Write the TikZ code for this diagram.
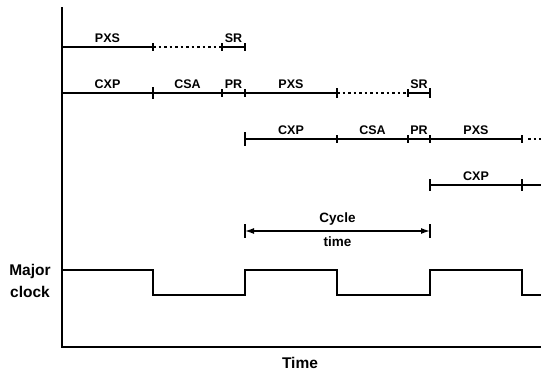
\documentclass[tikz,border=0pt]{standalone}
\usepackage{fontspec}
\setmainfont{Liberation Sans}
\usetikzlibrary{arrows.meta}
\tikzset{
  phase label/.style={
    font=\bfseries\fontsize{12.5}{14}\selectfont,
    above,
    inner sep=3.5pt,
  },
  phase line/.style={
    line width=1.4pt,
  },
  gap line/.style={
    line width=1.4pt,
    dash pattern=on 2.5pt off 3pt,
  },
  big label/.style={
    font=\bfseries\fontsize{15.5}{22}\selectfont,
    align=center,
  },
}
\newcommand{\tickmark}[2]{\draw[line width=1.2pt] (#1) ++(0,-#2) -- ++(0,2*#2);}

\begin{document}
\begin{tikzpicture}[x=1pt, y=-1pt]
      \useasboundingbox (0,0) rectangle (549,373);

      \coordinate (r1a) at (62,47);
      \coordinate (r1b) at (153,47);
      \coordinate (r1c) at (222,47);
      \coordinate (r1d) at (245,47);

      \coordinate (r2a) at (62,93);
      \coordinate (r2b) at (153,93);
      \coordinate (r2c) at (222,93);
      \coordinate (r2d) at (245,93);
      \coordinate (r2e) at (337,93);
      \coordinate (r2f) at (408,93);
      \coordinate (r2g) at (430,93);

      \coordinate (r3a) at (245,139);
      \coordinate (r3b) at (337,139);
      \coordinate (r3c) at (408,139);
      \coordinate (r3d) at (430,139);
      \coordinate (r3e) at (522,139);
      \coordinate (r3f) at (528,139);
      \coordinate (r3g) at (541,139);

      \coordinate (r4a) at (430,185);
      \coordinate (r4b) at (522,185);
      \coordinate (r4c) at (541,185);

      \coordinate (c1) at (245,231);
      \coordinate (c2) at (430,231);

      \draw[phase line] (r1a) -- node[phase label] {PXS} (r1b);
      \draw[gap line] (r1b) -- (r1c);
      \draw[phase line] (r1c) -- node[phase label] {SR} (r1d);
      \tickmark{r1b}{4} \tickmark{r1c}{4} \tickmark{r1d}{4}

      \draw[phase line] (r2a) -- node[phase label] {CXP} (r2b)
        -- node[phase label] {CSA} (r2c)
        -- node[phase label] {PR} (r2d)
        -- node[phase label] {PXS} (r2e);
      \draw[gap line] (r2e) -- (r2f);
      \draw[phase line] (r2f) -- node[phase label] {SR} (r2g);
      \tickmark{r2b}{6} \tickmark{r2c}{4} \tickmark{r2d}{4}
      \tickmark{r2e}{5} \tickmark{r2f}{4} \tickmark{r2g}{5}

      \draw[phase line] (r3a) -- node[phase label] {CXP} (r3b)
        -- node[phase label] {CSA} (r3c)
        -- node[phase label] {PR} (r3d)
        -- node[phase label] {PXS} (r3e);
      \draw[gap line] (r3f) -- (r3g);
      \tickmark{r3a}{7} \tickmark{r3b}{4} \tickmark{r3c}{4}
      \tickmark{r3d}{4} \tickmark{r3e}{4}

      \draw[phase line] (r4a) -- node[phase label] {CXP} (r4b) -- (r4c);
      \tickmark{r4a}{6} \tickmark{r4b}{6}

      \draw[phase line, {Latex[length=9pt, width=6pt]}-{Latex[length=9pt, width=6pt]}]
        (c1) -- node[phase label, inner sep=5pt, font=\bfseries\fontsize{13.5}{15}\selectfont] {Cycle}
                node[phase label, below, inner sep=5pt, font=\bfseries\fontsize{13.5}{15}\selectfont] {time} (c2);
      \tickmark{c1}{7} \tickmark{c2}{7}

      % major clock
      \draw[line width=1.6pt] (62,270) -- (153,270) -- (153,295) -- (245,295)
        -- (245,270) -- (337,270) -- (337,295) -- (430,295) -- (430,270)
        -- (522,270) -- (522,295) -- (541,295);

      % axes
      \coordinate (origin) at (62,347);
      \draw[line width=1.3pt] (62,7) -- (origin) -- (541,347);

      \node[big label] (major) at (30,281) {Major\\clock};
      \node[big label] (time) at (300,363) {Time};
\end{tikzpicture}
\end{document}
